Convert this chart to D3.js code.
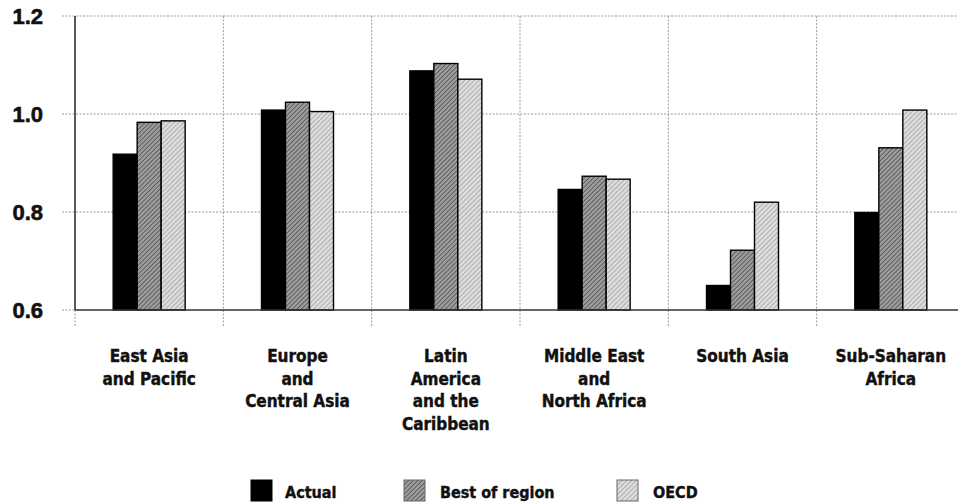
<!DOCTYPE html>
<html><head><meta charset="utf-8">
<script src="https://cdn.jsdelivr.net/npm/d3@7"></script>
<style>body{margin:0;background:#fff} svg{display:block}</style>
</head><body><svg id="c" width="958" height="504"></svg>
<script>
// ---- data ----
const categories = [
  ["East Asia","and Pacific"],
  ["Europe","and","Central Asia"],
  ["Latin","America","and the","Caribbean"],
  ["Middle East","and","North Africa"],
  ["South Asia"],
  ["Sub-Saharan","Africa"]
];
const seriesNames = ["Actual","Best of region","OECD"];
const actual       = [0.918, 1.008, 1.088, 0.846, 0.650, 0.799];
const bestOfRegion = [0.983, 1.024, 1.103, 0.873, 0.722, 0.931];
const oecd         = [0.986, 1.005, 1.071, 0.867, 0.820, 1.008];
const yTicks = [0.6, 0.8, 1.0, 1.2];
const yTickLabels = ["0.6", "0.8", "1.0", "1.2"];

// ---- layout ----
const axisX = 75, gridLeft = 62, gridRight = 958;
const svg = d3.select("#c");
const tickFont = "'Liberation Sans', Arial, sans-serif";
const labFont = "'DejaVu Sans Condensed', 'DejaVu Sans', sans-serif";

const seriesValues = [actual, bestOfRegion, oecd];
const idx = d3.range(categories.length);

const y = d3.scaleLinear().domain([0.6, 1.2]).range([310, 16]);
const x = d3.scaleBand().domain(idx).range([axisX, 965]).paddingInner(0).paddingOuter(0);
const xs = d3.scaleBand().domain(d3.range(seriesNames.length)).range([0, 72]);
const groupOffset = (x.bandwidth() - 72) / 2;

// patterns
const defs = svg.append("defs");
function hatch(id, base, line, lw, step) {
  const p = defs.append("pattern").attr("id", id).attr("patternUnits", "userSpaceOnUse")
    .attr("width", step).attr("height", step).attr("patternTransform", "rotate(45)");
  p.append("rect").attr("width", step).attr("height", step).attr("fill", base);
  p.append("line").attr("x1", 0).attr("y1", 0).attr("x2", 0).attr("y2", step)
    .attr("stroke", line).attr("stroke-width", lw);
  return `url(#${id})`;
}
const fills = ["#000", hatch("pBest", "#9c9c9c", "#555", 1.6, 3.2), hatch("pOecd", "#dcdcdc", "#9a9a9a", 1.3, 3.4)];

// grid
const grid = svg.append("g").attr("stroke", "#9a9a9a").attr("stroke-width", 1).attr("stroke-dasharray", "2,1.5");
grid.selectAll("line.h").data(yTicks).join("line")
  .attr("x1", gridLeft).attr("x2", d => d === 0.6 ? axisX : gridRight)
  .attr("y1", d => y(d)).attr("y2", d => y(d));
grid.selectAll("line.v").data(idx.slice(1)).join("line")
  .attr("x1", d => x(d)).attr("x2", d => x(d))
  .attr("y1", y(1.2)).attr("y2", y(0.6) + 17);
grid.append("line").attr("x1", axisX).attr("x2", axisX).attr("y1", y(0.6)).attr("y2", y(0.6) + 17);

// y tick labels
svg.append("g").selectAll("text").data(yTicks).join("text")
  .attr("x", 43).attr("y", d => y(d) + 8)
  .attr("text-anchor", "end").attr("font-family", tickFont).attr("font-weight", "bold")
  .attr("font-size", 22).attr("fill", "#111").attr("stroke", "#111").attr("stroke-width", 0.6)
  .text((d, i) => yTickLabels[i]);

// bars
const groups = svg.append("g").selectAll("g").data(idx).join("g")
  .attr("transform", d => `translate(${x(d) + groupOffset},0)`);
groups.selectAll("rect").data(c => seriesValues.map((s, si) => ({si, v: s[c]}))).join("rect")
  .attr("x", d => xs(d.si)).attr("width", xs.bandwidth())
  .attr("y", d => y(d.v)).attr("height", d => y(0.6) - y(d.v))
  .attr("fill", d => fills[d.si]).attr("stroke", "#000").attr("stroke-width", 1.4);

// axis lines
svg.append("line").attr("x1", axisX).attr("x2", axisX).attr("y1", y(1.2)).attr("y2", y(0.6))
  .attr("stroke", "#222").attr("stroke-width", 1.5);
svg.append("line").attr("x1", axisX).attr("x2", gridRight).attr("y1", y(0.6)).attr("y2", y(0.6))
  .attr("stroke", "#333").attr("stroke-width", 1.5);

// category labels
const lab = svg.append("g").attr("font-family", labFont).attr("font-weight", "bold")
  .attr("font-size", 17).attr("fill", "#111").attr("stroke", "#111").attr("stroke-width", 0.4)
  .attr("text-anchor", "middle");
idx.forEach(c => {
  const cx = x(c) + groupOffset + 36;
  const t = lab.append("text").attr("x", cx).attr("y", 362);
  categories[c].forEach((line, li) => {
    t.append("tspan").attr("x", cx).attr("dy", li === 0 ? 0 : 22.5).text(line);
  });
});

// legend
const legendX = [251, 404, 617];
const leg = svg.append("g").selectAll("g").data(seriesNames).join("g")
  .attr("transform", (d, i) => `translate(${legendX[i]},480)`);
leg.append("rect").attr("width", 21).attr("height", 21)
  .attr("fill", (d, i) => fills[i]).attr("stroke", (d, i) => i === 0 ? "#000" : "#666").attr("stroke-width", 1);
leg.append("text").attr("x", (d, i) => i === 0 ? 34 : 36).attr("y", 18)
  .attr("font-family", labFont).attr("font-weight", "bold").attr("font-size", 16)
  .attr("fill", "#111").attr("stroke", "#111").attr("stroke-width", 0.4)
  .text(d => d);
</script>
</body></html>
